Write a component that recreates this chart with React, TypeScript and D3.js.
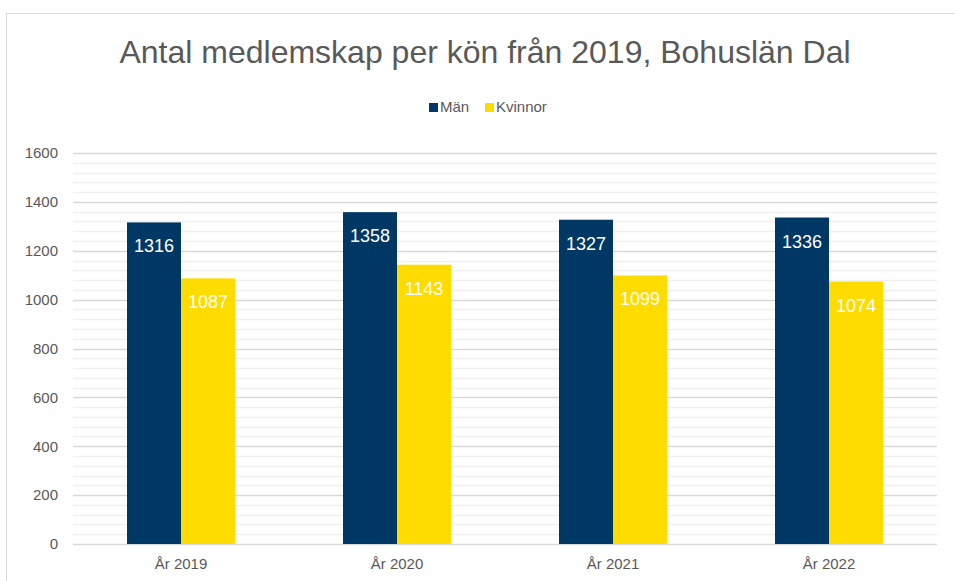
import React, { useRef, useEffect } from 'react';
import * as d3 from 'd3';

const categories = ['År 2019', 'År 2020', 'År 2021', 'År 2022'];
const seriesNames = ['Män', 'Kvinnor'];
const men = [1316, 1358, 1327, 1336];
const women = [1087, 1143, 1099, 1074];
const yTicks = [0, 200, 400, 600, 800, 1000, 1200, 1400, 1600];
const colors = ['#003865', '#FFDC00'];

const W = 955;
const H = 581;
const margin = { top: 153, right: 18, bottom: 37, left: 73 };
const FONT = '"Liberation Sans", Arial, sans-serif';

const App: React.FC = () => {
  const svgRef = useRef<SVGSVGElement | null>(null);

  useEffect(() => {
    if (!svgRef.current) return;
    const svg = d3.select(svgRef.current);
    svg.selectAll('*').remove();

    const x0 = margin.left;
    const x1 = W - margin.right;
    const yBottom = H - margin.bottom;

    // chart frame
    svg.append('rect')
      .attr('x', 6.5).attr('y', 13.5)
      .attr('width', W + 10).attr('height', H + 10)
      .attr('fill', '#fff').attr('stroke', '#d9d9d9');

    const xScale = d3.scaleBand<string>()
      .domain(categories)
      .range([x0, x1])
      .paddingInner(0.5)
      .paddingOuter(0.25);

    const xSub = d3.scaleBand<string>()
      .domain(seriesNames)
      .range([0, xScale.bandwidth()]);

    const yScale = d3.scaleLinear().domain([0, 1600]).range([yBottom, margin.top]);

    // minor gridlines
    const minor = d3.range(0, 1601, 40).filter(v => v % 200 !== 0);
    svg.append('g').selectAll('line').data(minor).enter().append('line')
      .attr('x1', x0).attr('x2', x1)
      .attr('y1', d => Math.round(yScale(d)) + 0.5)
      .attr('y2', d => Math.round(yScale(d)) + 0.5)
      .attr('stroke', '#f0f0f0').attr('stroke-width', 1.3);

    // major gridlines
    svg.append('g').selectAll('line').data(yTicks).enter().append('line')
      .attr('x1', x0).attr('x2', x1)
      .attr('y1', d => Math.round(yScale(d)) + 0.5)
      .attr('y2', d => Math.round(yScale(d)) + 0.5)
      .attr('stroke', '#d9d9d9').attr('stroke-width', 1.3);

    // y labels
    svg.append('g').selectAll('text').data(yTicks).enter().append('text')
      .attr('x', 58).attr('y', d => yScale(d))
      .attr('dy', '0.35em')
      .attr('text-anchor', 'end')
      .attr('font-family', FONT).attr('font-size', 15)
      .attr('fill', '#595959')
      .text(d => d);

    // bars
    const allSeries = [men, women];
    seriesNames.forEach((name, si) => {
      const g = svg.append('g');
      const vals = allSeries[si];
      g.selectAll('rect').data(vals).enter().append('rect')
        .attr('x', (d, i) => (xScale(categories[i]) || 0) + (xSub(name) || 0))
        .attr('y', d => yScale(d))
        .attr('width', xSub.bandwidth())
        .attr('height', d => yBottom - yScale(d))
        .attr('fill', colors[si]);
      g.selectAll('text').data(vals).enter().append('text')
        .attr('x', (d, i) => (xScale(categories[i]) || 0) + (xSub(name) || 0) + xSub.bandwidth() / 2)
        .attr('y', d => yScale(d) + 30)
        .attr('text-anchor', 'middle')
        .attr('font-family', FONT).attr('font-size', 18)
        .attr('fill', '#fff')
        .text(d => d);
    });

    // x labels
    svg.append('g').selectAll('text').data(categories).enter().append('text')
      .attr('x', d => (xScale(d) || 0) + xScale.bandwidth() / 2)
      .attr('y', 569)
      .attr('text-anchor', 'middle')
      .attr('font-family', FONT).attr('font-size', 15)
      .attr('fill', '#595959')
      .text(d => d);

    // title
    svg.append('text')
      .attr('x', 485).attr('y', 63)
      .attr('text-anchor', 'middle')
      .attr('font-family', FONT).attr('font-size', 32)
      .attr('fill', '#595959')
      .text('Antal medlemskap per kön från 2019, Bohuslän Dal');

    // legend
    const legendX = [429, 485];
    seriesNames.forEach((name, i) => {
      svg.append('rect')
        .attr('x', legendX[i]).attr('y', 103)
        .attr('width', 9).attr('height', 9)
        .attr('fill', colors[i]);
      svg.append('text')
        .attr('x', legendX[i] + 11).attr('y', 112)
        .attr('font-family', FONT).attr('font-size', 15)
        .attr('fill', '#595959')
        .text(name);
    });
  }, []);

  return (
    <svg ref={svgRef} width={W} height={H}
      style={{ position: 'absolute', left: 0, top: 0, background: '#fff' }} />
  );
};

export default App;
